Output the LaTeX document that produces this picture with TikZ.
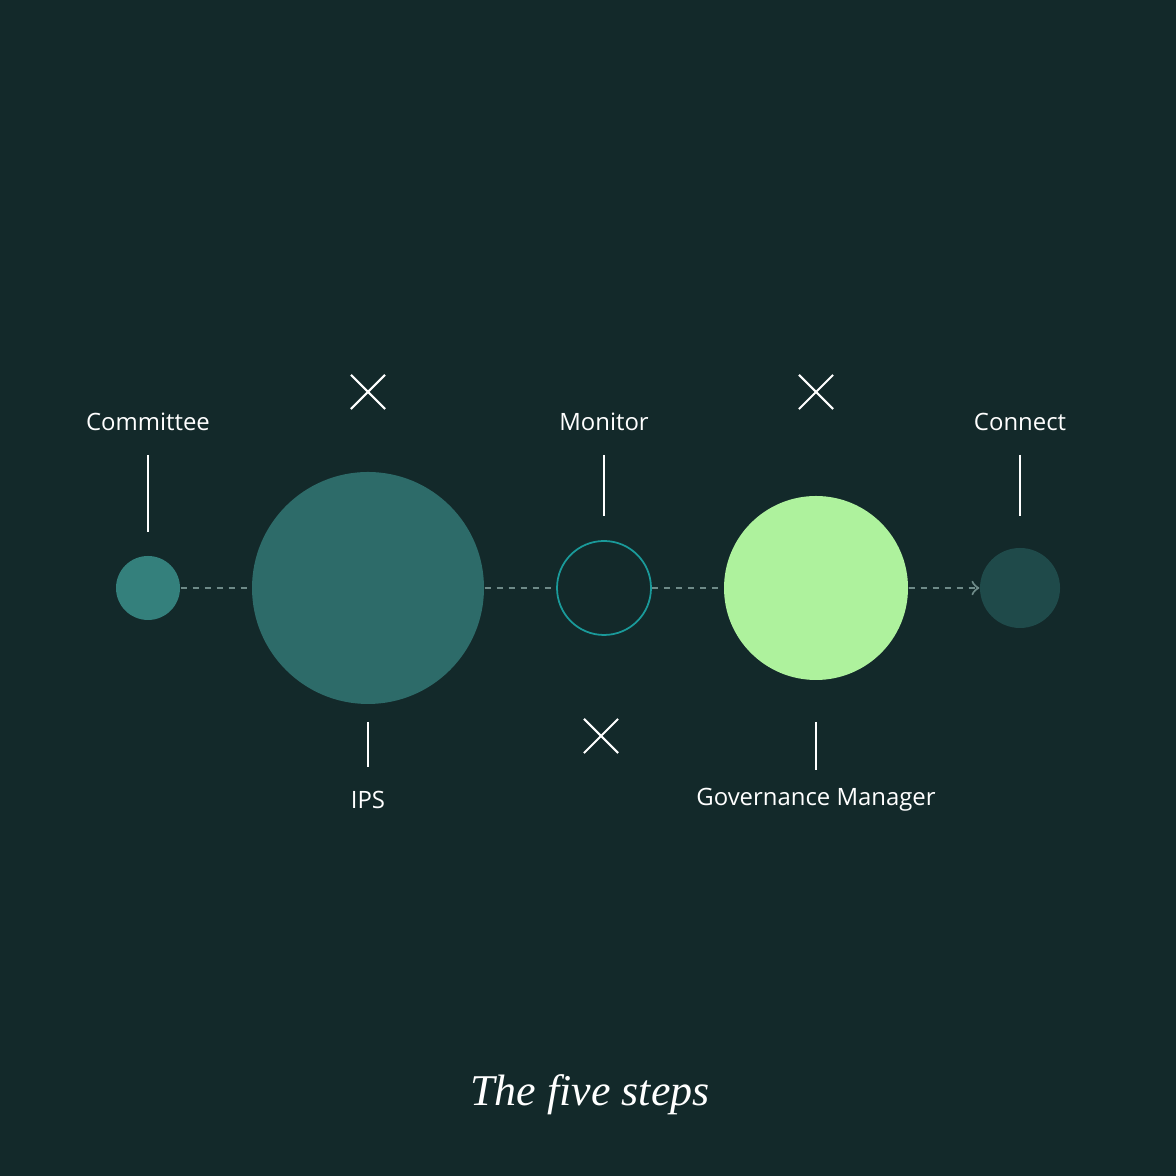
\documentclass[tikz,border=0pt]{standalone}
\usepackage{fontspec}
\setmainfont{Open Sans}
\newfontfamily\titlefont{Liberation Serif}
\usetikzlibrary{shapes.misc,arrows,positioning}
\definecolor{bgdark}{HTML}{13292A}
\definecolor{tealmid}{HTML}{34807C}
\definecolor{tealdeep}{HTML}{2D6B69}
\definecolor{tealring}{HTML}{1A9A9A}
\definecolor{limelight}{HTML}{AEF29D}
\definecolor{tealdark}{HTML}{1F4A4A}
\definecolor{dashgrey}{HTML}{6E8A88}
\tikzset{stage/.style={circle,inner sep=0pt,draw=none}}
\tikzset{lbl/.style={text=white,font=\fontsize{6.8}{8}\selectfont,inner sep=0pt}}
\tikzset{tick/.style={draw=white,line width=0.7pt}}
\tikzset{cross/.style={cross out,draw=white,line width=0.6pt,minimum size=0.32cm,inner sep=0pt}}
\tikzset{link/.style={draw=dashgrey,line width=0.6pt,dash pattern=on 0.06cm off 0.06cm,yshift=-0.02cm}}

\begin{document}
\begin{tikzpicture}[node distance=1.66cm]
    \fill[bgdark] (0,0) rectangle (11.76,11.76);
    \useasboundingbox (0,0) rectangle (11.76,11.76);

    \node[stage,fill=tealmid,minimum size=0.64cm] (committee) at (1.48,5.88) {};
    \node[stage,fill=tealdeep,minimum size=2.32cm] (ips) at (3.68,5.88) {};
    \node[stage,draw=tealring,line width=0.5pt,minimum size=0.94cm] (monitor) at (6.04,5.88) {};
    \node[stage,fill=limelight,minimum size=1.84cm] (govman) at (8.16,5.88) {};
    \node[stage,fill=tealdark,minimum size=0.80cm] (connect) at (10.20,5.88) {};

     \node[lbl,above of=committee] (lcommittee) {Committee};
     \node[lbl,above of=monitor] (lmonitor) {Monitor};
     \node[lbl,above of=connect] (lconnect) {Connect};
     \node[lbl,below of=ips,node distance=2.12cm] (lips) {IPS};
     \node[lbl,below of=govman,node distance=2.12cm] (lgovman) {Governance Manager};

     \coordinate[below of=lcommittee,node distance=0.33cm] (t1a);
     \coordinate[above of=committee,node distance=0.56cm] (t1b);
     \coordinate[below of=lmonitor,node distance=0.33cm] (t3a);
     \coordinate[above of=monitor,node distance=0.72cm] (t3b);
     \coordinate[below of=lconnect,node distance=0.33cm] (t5a);
     \coordinate[above of=connect,node distance=0.72cm] (t5b);
     \coordinate[below of=ips,node distance=1.34cm] (t2a);
     \coordinate[above of=lips,node distance=0.33cm] (t2b);
     \coordinate[below of=govman,node distance=1.34cm] (t4a);
     \coordinate[above of=lgovman,node distance=0.30cm] (t4b);

     \node[cross] (x1) at (3.68,7.84) {};
     \node[cross] (x2) at (8.16,7.84) {};
     \node[cross] (x3) at (6.01,4.40) {};

     \node[text=white,font=\titlefont\itshape\fontsize{12.5}{14}\selectfont] (title) at (5.90,0.81) {The five steps};

        \path[tick] (t1a) -- (t1b);
        \path[tick] (t2a) -- (t2b);
        \path[tick] (t3a) -- (t3b);
        \path[tick] (t4a) -- (t4b);
        \path[tick] (t5a) -- (t5b);
        \path[link] (committee) -- (ips);
        \path[link] (ips) -- (monitor);
        \path[link] (monitor) -- (govman);
        \path[link,->] (govman) -- (connect);
\end{tikzpicture}
\end{document}
